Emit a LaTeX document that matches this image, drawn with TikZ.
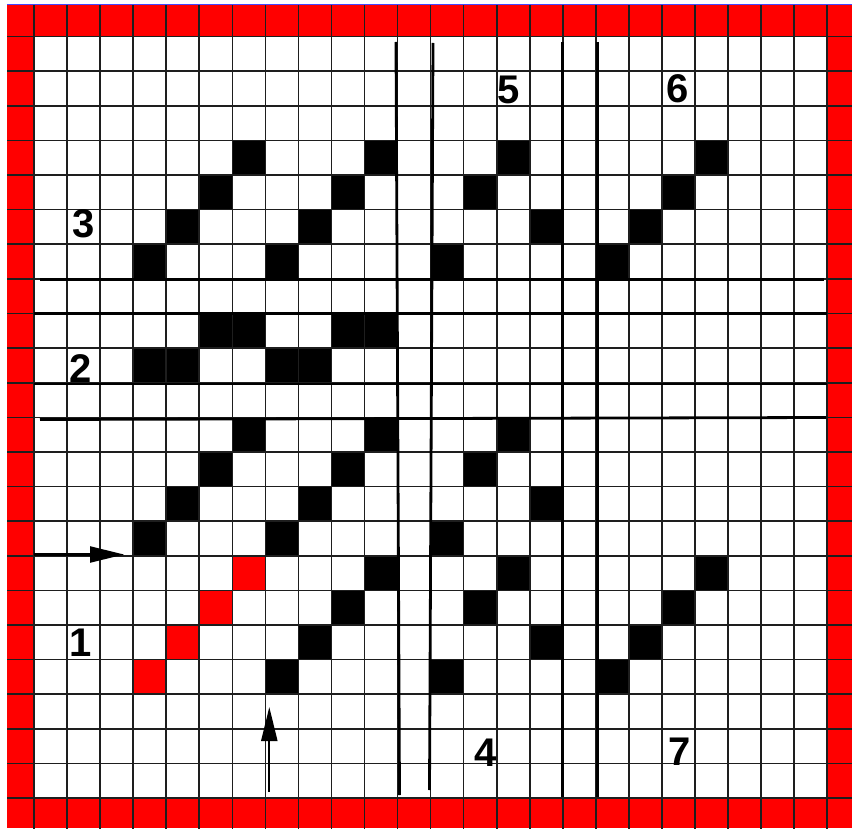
\documentclass[tikz,border=0pt]{standalone}
\usepackage{fontspec}
\setmainfont{Liberation Sans}
\usetikzlibrary{arrows.meta}
\definecolor{cellred}{RGB}{255,0,0}
\definecolor{gridcol}{RGB}{30,30,30}
\definecolor{topblue}{RGB}{70,70,255}
\tikzset{
  gridline/.style={draw=gridcol, line width=1.6pt},
  thickline/.style={draw=black, line width=2.8pt},
  digit/.style={inner sep=0pt, font=\fontsize{40}{40}\selectfont\bfseries},
  pointer/.style={draw=black, line width=2.2pt, -{Triangle[length=34pt,width=16pt]}},
}
\newcommand{\cw}{33.05}
\newcommand{\ch}{34.6}
\begin{document}
\begin{tikzpicture}[x=1pt,y=-1pt]
\useasboundingbox (0,0) rectangle (852,829);
\fill[white] (0,0) rectangle (852,829);
\begin{scope}
\clip (7,5) rectangle (852,828);
\fill[cellred] (7,5) rectangle (852,828);
\fill[white] (34,36.7) rectangle (827.2,797.9);
% black cells
\foreach \c/\r in {3/6,4/5,5/4,6/3, 7/6,8/5,9/4,10/3, 12/6,13/4,14/3,15/5, 17/6,18/5,19/4,20/3,
  5/8,6/8,9/8,10/8, 3/9,4/9,7/9,8/9,
  6/11,5/12,4/13,3/14, 10/11,9/12,8/13,7/14, 14/11,13/12,15/13,12/14,
  10/15,9/16,8/17,7/18, 14/15,13/16,15/17,12/18, 20/15,19/16,18/17,17/18}
  \fill[black] (34+\cw*\c, 36.7+\ch*\r) rectangle ++(\cw,\ch);
% red cells
\foreach \c/\r in {6/15,5/16,4/17,3/18}
  \fill[cellred] (34+\cw*\c, 36.7+\ch*\r) rectangle ++(\cw,\ch);
% grid
\foreach \k in {-1,...,25}
  \draw[gridline] (34+\cw*\k, 0) -- (34+\cw*\k, 829);
\foreach \k in {-1,...,23}
  \draw[gridline] (0, 36.7+\ch*\k) -- (852, 36.7+\ch*\k);
\end{scope}
\draw[topblue, line width=1.2pt] (7,4.6) -- (852,4.6);
% thick separators
\draw[thickline] (40,279.5) -- (824,279.5);
\draw[thickline] (34,313.3) -- (827,313.3);
\draw[thickline] (34,384) -- (827,384);
\draw[thickline] (40,419.5) -- (826,417.5);
\draw[thickline] (396,42) -- (399.5,795);
\draw[thickline] (433,43) -- (429.5,790);
\draw[thickline] (562.8,42) -- (562.8,797);
\draw[thickline] (597.5,42) -- (597.5,797);
% labels
\node[digit] (l1) at (81,643) {1};
\node[digit] (l2) at (81,369) {2};
\node[digit] (l3) at (84,224) {3};
\node[digit] (l4) at (486,753) {4};
\node[digit] (l5) at (509,90) {5};
\node[digit] (l6) at (678,89) {6};
\node[digit] (l7) at (680,752) {7};
% arrows
\coordinate (h0) at (34,554.5);
\coordinate (h1) at (124,554.5);
\coordinate (v0) at (269.3,792);
\coordinate (v1) at (269.3,707);
\draw[pointer] (h0) -- (h1);
\draw[pointer] (v0) -- (v1);
\end{tikzpicture}
\end{document}
